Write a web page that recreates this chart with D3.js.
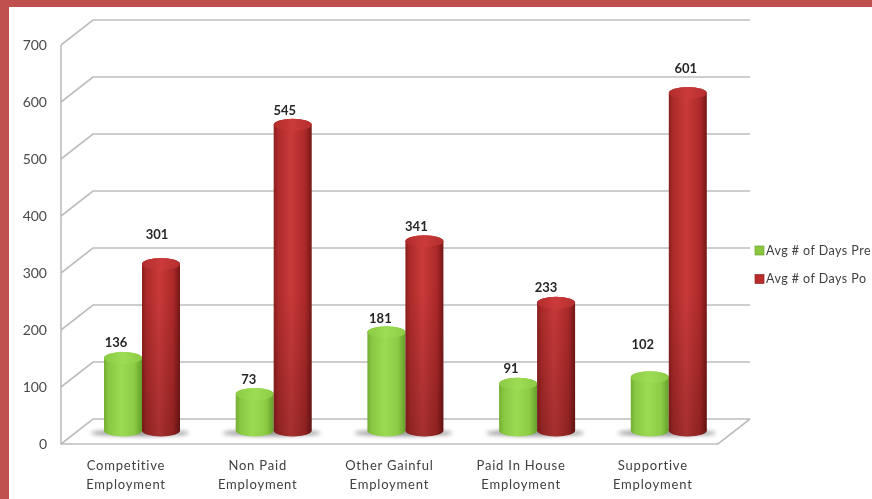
<!DOCTYPE html>
<html><head><meta charset="utf-8">
<script src="https://cdn.jsdelivr.net/npm/d3@7"></script>
<style>
html,body{margin:0;padding:0;background:#fff;overflow:hidden}
svg{display:block;filter:blur(0.5px)}
text{font-family:Lato,"Open Sans",sans-serif}
</style></head><body>
<svg id="c" width="872" height="499"></svg>
<script>
const categories=[["Competitive","Employment"],["Non Paid","Employment"],["Other Gainful","Employment"],["Paid In House","Employment"],["Supportive","Employment"]];
const preValues=[136,73,181,91,102];
const postValues=[301,545,341,233,601];
const yTicks=[0,100,200,300,400,500,600,700];
const legendLabels=["Avg # of Days Pre","Avg # of Days Po"];
// placement of each value label relative to the top and centre of its cylinder
const preGaps=[5,4,3,5,22];
const postGaps=[19,4,4,5,14];
const preShift=[-7,-6,-6,-7,-7];
const postShift=[-4,-8,-8,-10,-2];

const svg=d3.select("#c");
const W=872,H=499;
const defs=svg.append("defs");
function grad(id,stops){
  const g=defs.append("linearGradient").attr("id",id).attr("x1","0").attr("x2","1").attr("y1","0").attr("y2","0");
  stops.forEach(s=>g.append("stop").attr("offset",s[0]).attr("stop-color",s[1]));
}
grad("gG",[[0,"#74ae32"],[.12,"#88c742"],[.45,"#9bdb52"],[.8,"#8ccb44"],[1,"#659f2b"]]);
grad("gR",[[0,"#8a1f1f"],[.12,"#ad2a2a"],[.45,"#c93a3a"],[.82,"#ad2929"],[1,"#751717"]]);
grad("gGt",[[0,"#8ccb44"],[.5,"#9ddc55"],[1,"#8ccb44"]]);
grad("gRt",[[0,"#b22c2c"],[.5,"#cb3a3a"],[1,"#b52e2e"]]);
const shade=defs.append("linearGradient").attr("id","gS").attr("gradientUnits","userSpaceOnUse")
  .attr("x1",0).attr("x2",0).attr("y1",290).attr("y2",436);
shade.append("stop").attr("offset",0).attr("stop-color","#000").attr("stop-opacity",0);
shade.append("stop").attr("offset",1).attr("stop-color","#000").attr("stop-opacity",.18);
const bl=defs.append("filter").attr("id","sh").attr("x","-30%").attr("width","160%").attr("y","-100%").attr("height","300%");
bl.append("feGaussianBlur").attr("stdDeviation","2.2");

// frame
svg.append("rect").attr("width",W).attr("height",7).attr("fill","#c0504d");
svg.append("rect").attr("width",9).attr("height",H).attr("fill","#c0504d");

const y=d3.scaleLinear().domain([0,700]).range([444,45]);
const dx=32,dy=-25;
const x0=61,x1=718;
const gridCol="#bdbdbd";
const grid=svg.append("g").attr("fill","none").attr("stroke",gridCol).attr("stroke-width",1.6);
yTicks.forEach(t=>{
  const p=d3.path();
  p.moveTo(x0,y(t));p.lineTo(x0+dx,y(t)+dy);p.lineTo(x1+dx,y(t)+dy);
  grid.append("path").attr("d",p.toString());
});
grid.append("path").attr("d",`M${x0},${y(700)}L${x0},${y(0)}L${x1},${y(0)}L${x1+dx},${y(0)+dy}`);

svg.append("g").selectAll("text").data(yTicks).join("text")
  .attr("x",47).attr("y",d=>y(d)+5).attr("text-anchor","end")
  .attr("font-size",14).attr("fill","#4a4a4a").text(d=>d);

const xBand=d3.scaleBand().domain(d3.range(categories.length)).range([76,734.5]);
const inner=d3.scaleBand().domain(["pre","post"]).range([28,104]);
const bw=inner.bandwidth();
const baseY=430.5,rx=bw/2,ry=6,lift=14.5;
const topY=v=>y(v)-lift;

function cyl(g,cx,v,fill,top,shaded){
  const yt=topY(v)+ry;
  const d=`M${cx-rx},${yt}A${rx},${ry} 0 0 1 ${cx+rx},${yt}L${cx+rx},${baseY}A${rx},${ry} 0 0 1 ${cx-rx},${baseY}Z`;
  g.append("path").attr("d",d).attr("fill",fill);
  if(shaded) g.append("path").attr("d",d).attr("fill","url(#gS)");
  g.append("ellipse").attr("cx",cx).attr("cy",yt).attr("rx",rx).attr("ry",ry).attr("fill",top);
}
const bars=svg.append("g");
const labelG=svg.append("g");
const lab=(cx,v,gap)=>labelG.append("text").attr("x",cx).attr("y",topY(v)-gap)
   .attr("text-anchor","middle").attr("font-size",13).attr("font-weight",700).attr("fill","#262626").text(v);
categories.forEach((c,i)=>{
  const gx=xBand(i);
  const g=bars.append("g");
  g.append("ellipse").attr("cx",gx+inner.range()[0]+bw-2).attr("cy",baseY+2.5).attr("rx",bw+11).attr("ry",3)
    .attr("fill","#8f8f8f").attr("filter","url(#sh)");
  const cxP=gx+inner("pre")+rx, cxQ=gx+inner("post")+rx;
  cyl(g,cxP,preValues[i],"url(#gG)","url(#gGt)",false);
  cyl(g,cxQ,postValues[i],"url(#gR)","url(#gRt)",true);
  lab(cxP+preShift[i],preValues[i],preGaps[i]);
  lab(cxQ+postShift[i],postValues[i],postGaps[i]);
  const t=svg.append("text").attr("text-anchor","middle")
    .attr("font-size",13).attr("fill","#404040").attr("letter-spacing",0.8);
  c.forEach((s,k)=>t.append("tspan").attr("x",gx+50).attr("y",469.5+k*19.5).text(s));
});

const legendFill=["#8cc63f","#b92c2c"];
const leg=svg.append("g");
legendLabels.forEach((s,i)=>{
  const ly=250+i*28.5;
  leg.append("rect").attr("x",755).attr("y",ly-4).attr("width",9).attr("height",9)
    .attr("fill",legendFill[i]).attr("stroke",i?"#8e2a2a":"#6fa030").attr("stroke-width",.7);
  leg.append("text").attr("x",766).attr("y",ly+4.5).attr("font-size",12.5).attr("fill","#404040").attr("letter-spacing",0.45).text(s);
});
</script>
</body></html>
